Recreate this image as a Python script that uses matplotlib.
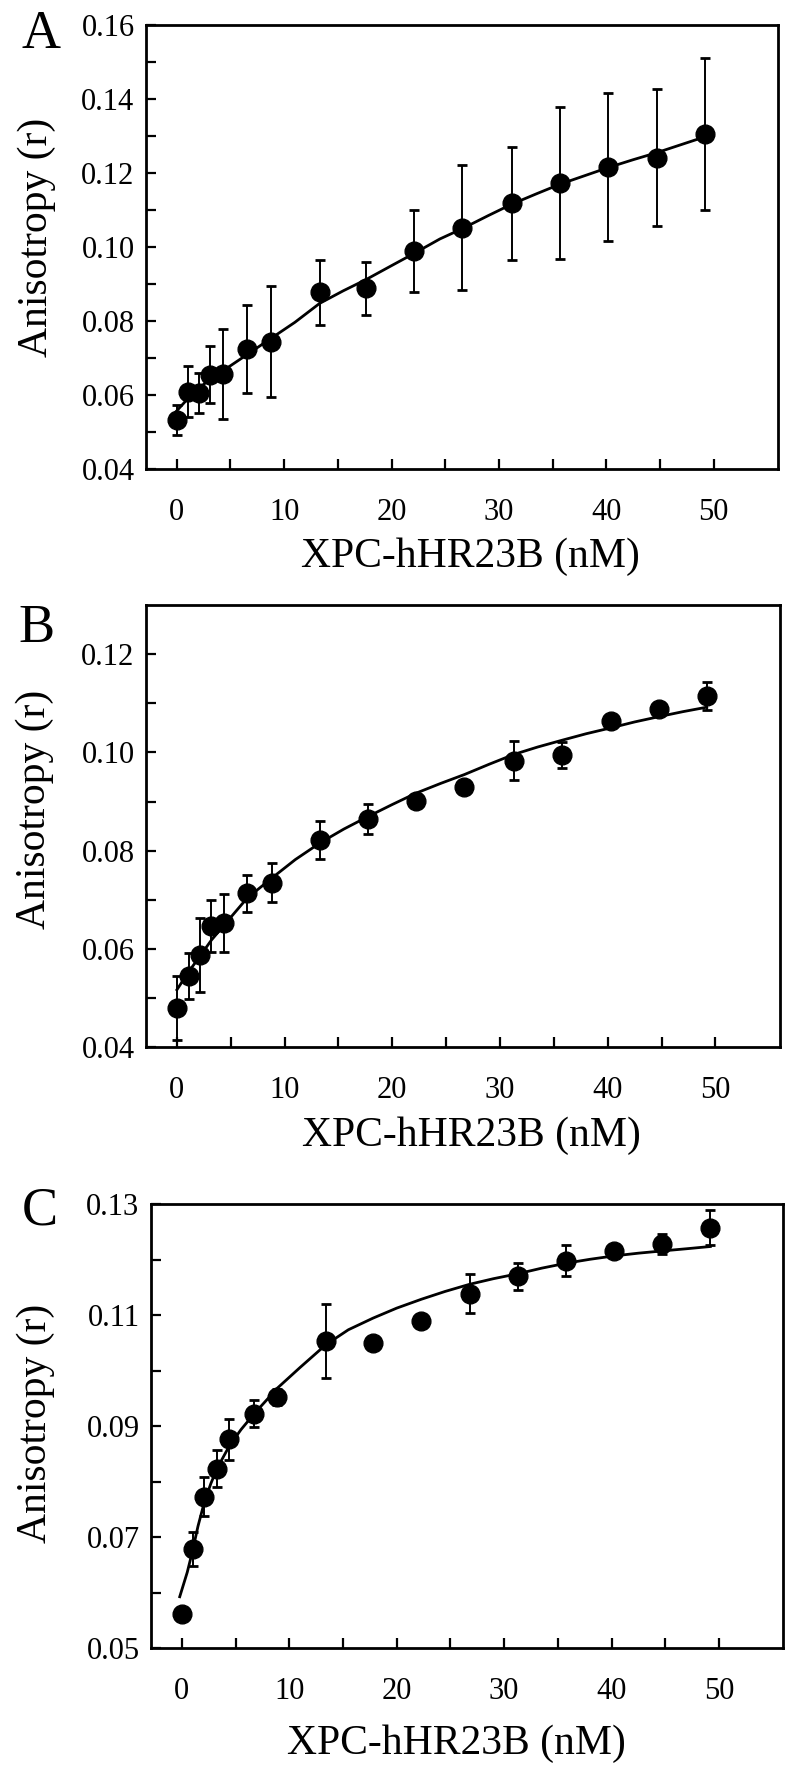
import numpy as np
import matplotlib
matplotlib.use("Agg")
import matplotlib.pyplot as plt

plt.rcParams['font.family'] = ['Liberation Serif', 'DejaVu Serif']

a_x = [0, 1.0, 2.1, 3.1, 4.3, 6.5, 8.8, 13.3, 17.6, 22.1, 26.6, 31.2, 35.7, 40.2, 44.7, 49.2]
a_y = [0.0533, 0.0610, 0.0605, 0.0656, 0.0657, 0.0725, 0.0745, 0.0878,
       0.0889, 0.0990, 0.1053, 0.1118, 0.1174, 0.1216, 0.1242, 0.1306]
a_err = [0.0040, 0.0068, 0.0054, 0.0077, 0.0122, 0.0120, 0.0150, 0.0088,
         0.0071, 0.0110, 0.0168, 0.0153, 0.0205, 0.0199, 0.0186, 0.0206]
a_fit_x = [0, 1, 2, 3, 4.4, 6.5, 8.9, 11, 13.3, 15.5, 17.6, 20, 22.1, 24.5,
           26.6, 29, 31.2, 33.5, 35.7, 38, 40.2, 42.5, 44.7, 47, 49.2]
a_fit_y = [0.0558, 0.0590, 0.0618, 0.0641, 0.0668, 0.0709, 0.0756, 0.0797, 0.0848,
           0.0882, 0.0912, 0.0950, 0.0983, 0.1022, 0.1050, 0.1085, 0.1116, 0.1144,
           0.1170, 0.1193, 0.1215, 0.1236, 0.1255, 0.1277, 0.1298]

# panel B
b_x = [0, 1.1, 2.1, 3.2, 4.4, 6.5, 8.8, 13.3, 17.7, 22.2, 26.7, 31.3, 35.8, 40.3, 44.8, 49.2]
b_y = [0.0479, 0.0545, 0.0588, 0.0647, 0.0652, 0.0713, 0.0735, 0.0822,
       0.0864, 0.0902, 0.0929, 0.0983, 0.0995, 0.1064, 0.1088, 0.1115]
b_err = [0.0065, 0.0047, 0.0075, 0.0053, 0.0059, 0.0037, 0.0040, 0.0038,
         0.0031, 0.0, 0.0, 0.0040, 0.0026, 0.0, 0.0, 0.0029]
b_fit_x = [0, 1.1, 2.1, 3.2, 4.4, 6.5, 8.8, 11, 13.3, 15.5, 17.7, 20, 22.2, 24.5,
           26.7, 29, 31.3, 33.5, 35.8, 38, 40.3, 42.5, 44.8, 47, 49.2]
b_fit_y = [0.0517, 0.0554, 0.0584, 0.0618, 0.0649, 0.0703, 0.0744, 0.0782, 0.0816,
           0.0844, 0.0869, 0.0894, 0.0917, 0.0937, 0.0955, 0.0976, 0.0996, 0.1011,
           0.1025, 0.1038, 0.1050, 0.1062, 0.1073, 0.1083, 0.1092]

# panel C
c_x = [0, 1.0, 2.1, 3.3, 4.4, 6.7, 8.9, 13.4, 17.8, 22.3, 26.8, 31.3, 35.8, 40.2, 44.7, 49.2]
c_y = [0.0562, 0.0679, 0.0773, 0.0824, 0.0877, 0.0923, 0.0953, 0.1054,
       0.1051, 0.1090, 0.1139, 0.1170, 0.1198, 0.1216, 0.1228, 0.1258]
c_err = [0.0008, 0.0031, 0.0035, 0.0033, 0.0037, 0.0025, 0.0015, 0.0066,
         0.0, 0.0012, 0.0035, 0.0025, 0.0028, 0.0005, 0.0018, 0.0032]
c_fit_x = [-0.2, 0.5, 1.0, 1.5, 2.1, 2.7, 3.3, 4.4, 5.5, 6.7, 8.9, 11, 13.4, 15.5,
           17.8, 20, 22.3, 24.5, 26.8, 29, 31.3, 33.5, 35.8, 38, 40.2, 42.5, 44.7, 47, 49.2]
c_fit_y = [0.0593, 0.0637, 0.0676, 0.0720, 0.0764, 0.0797, 0.0825, 0.0864, 0.0894,
           0.0922, 0.0969, 0.1006, 0.1047, 0.1074, 0.1095, 0.1113, 0.1129, 0.1143,
           0.1156, 0.1166, 0.1175, 0.1185, 0.1194, 0.1201, 0.1207, 0.1212, 0.1216,
           0.1220, 0.1224]

a_yticks = [0.04, 0.06, 0.08, 0.10, 0.12, 0.14, 0.16]
b_yticks = [0.04, 0.06, 0.08, 0.10, 0.12]
c_yticks = [0.05, 0.07, 0.09, 0.11, 0.13]
x_ticks = [0, 10, 20, 30, 40, 50]

xlabel = "XPC-hHR23B (nM)"
ylabel = "Anisotropy (r)"

panels = [
    dict(tag="A", x=a_x, y=a_y, err=a_err, fx=a_fit_x, fy=a_fit_y, yt=a_yticks, ylim=(0.04, 0.16),
         pos=[0.1821, 0.7347, 0.7904, 0.2512], ylab=(-0.172, 0.522), xlab=(0.514, -0.197),
         tagpos=(0.027, 0.9727)),
    dict(tag="B", x=b_x, y=b_y, err=b_err, fx=b_fit_x, fy=b_fit_y, yt=b_yticks, ylim=(0.04, 0.13),
         pos=[0.1821, 0.4080, 0.7929, 0.2500], ylab=(-0.1745, 0.539), xlab=(0.514, -0.199),
         tagpos=(0.023, 0.6373)),
    dict(tag="C", x=c_x, y=c_y, err=c_err, fx=c_fit_x, fy=c_fit_y, yt=c_yticks, ylim=(0.05, 0.13),
         pos=[0.1884, 0.0682, 0.7908, 0.2510], ylab=(-0.181, 0.507), xlab=(0.484, -0.215),
         tagpos=(0.027, 0.3076)),
]

fig = plt.figure(figsize=(8, 17.69), dpi=100)

for p in panels:
    ax = fig.add_axes(p["pos"])
    ax.plot(p["fx"], p["fy"], color="black", lw=2.0, zorder=2)
    ax.errorbar(p["x"], p["y"], yerr=p["err"], fmt="o", color="black", ms=13.5,
                ecolor="black", elinewidth=1.4, capsize=3.5, capthick=2.0, zorder=3)
    ax.set_xlim(-2.9, 56)
    ax.set_ylim(*p["ylim"])
    ax.set_xticks(x_ticks)
    ax.set_xticks([t + 5 for t in x_ticks[:-1]], minor=True)
    ax.set_yticks(p["yt"])
    ax.set_yticks([t + 0.01 for t in p["yt"]][:-1], minor=True)
    ax.set_yticklabels([f"{t:.2f}" for t in p["yt"]])
    ax.tick_params(which="both", direction="in", length=7, width=1.6,
                   top=False, right=False, labelsize=22)
    ax.tick_params(axis="x", which="both", pad=20.5)
    ax.tick_params(axis="y", which="both", pad=8)
    for s in ax.spines.values():
        s.set_linewidth(2.0)
    ax.text(p["ylab"][0], p["ylab"][1], ylabel, rotation=90, ha="center", va="center",
            fontsize=30, transform=ax.transAxes)
    ax.text(p["xlab"][0], p["xlab"][1], xlabel, ha="center", va="center",
            fontsize=30, transform=ax.transAxes)
    fig.text(p["tagpos"][0], p["tagpos"][1], p["tag"], ha="left", va="baseline", fontsize=39)

fig.savefig("out.png", dpi=100)
